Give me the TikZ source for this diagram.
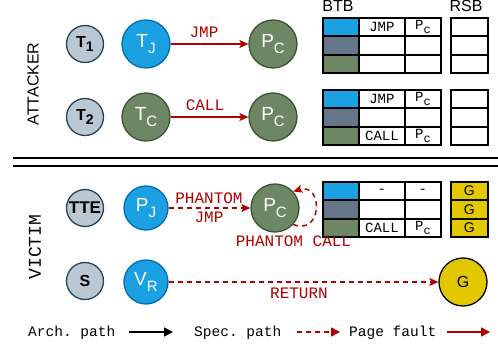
\documentclass[tikz,border=0pt]{standalone}
\usepackage{fontspec}
\usepackage{graphicx}
\setmainfont{Liberation Sans}
\setmonofont{Liberation Mono}
\usetikzlibrary{arrows.meta}
\definecolor{cblue}{HTML}{1BA1E2}
\definecolor{cbluedk}{HTML}{006EAF}
\definecolor{cgreen}{HTML}{6D8764}
\definecolor{cgreendk}{HTML}{3A5431}
\definecolor{cgray}{HTML}{BAC8D3}
\definecolor{cgraydk}{HTML}{23445D}
\definecolor{cslate}{HTML}{647687}
\definecolor{cyel}{HTML}{E3C800}
\definecolor{cred}{HTML}{B20000}
\newcommand\nsub[1]{\raisebox{-5.5pt}{\fontsize{15}{15}\selectfont #1}}
\newcommand\bsub[1]{\raisebox{-4pt}{\fontsize{14}{14}\selectfont\bfseries #1}}
\newcommand\tsub[1]{\raisebox{-4pt}{\fontsize{12}{12}\selectfont #1}}
\newcommand\btbrow[8]{%
  \node[cell, minimum width=36pt, fill=#4] (#1#2a) at (322,#3) {};
  \node[cell, minimum width=46pt] (#1#2b) at (358,#3) {#5};
  \node[cell, minimum width=36pt] (#1#2c) at (404,#3) {#6};
  \node[cell, minimum width=37pt, fill=#7] (#1#2r) at (450,#3) {#8};
}
\begin{document}
\begin{tikzpicture}[x=1pt,y=-1pt,
  thr/.style={circle, draw=cgraydk, fill=cgray, line width=1.3pt, minimum size=37pt, inner sep=0pt, font=\bfseries\fontsize{16}{16}\selectfont},
  bnode/.style={circle, draw=cbluedk, fill=cblue, line width=1.3pt, minimum size=48pt, inner sep=0pt, text=white, font=\fontsize{19}{19}\selectfont},
  gnode/.style={circle, draw=cgreendk, fill=cgreen, line width=1.3pt, minimum size=48pt, inner sep=0pt, text=white, font=\fontsize{19}{19}\selectfont},
  ynode/.style={circle, draw=black, fill=cyel, line width=1.3pt, minimum size=48pt, inner sep=0pt, font=\fontsize{16}{16}\selectfont},
  cell/.style={draw=black, line width=1.8pt, minimum height=18.4pt, inner sep=0pt, anchor=north west, font=\ttfamily\fontsize{14}{14}\selectfont},
  rlab/.style={text=cred, anchor=base, inner sep=0pt, font=\ttfamily\fontsize{16}{16}\selectfont},
  leg/.style={anchor=base west, inner sep=0pt, font=\ttfamily\fontsize{14.5}{14.5}\selectfont},
  redarr/.style={draw=cred, line width=1.5pt, -{Stealth[length=9pt,width=8pt,inset=2pt]}},
  reddash/.style={redarr, dash pattern=on 5pt off 4pt}
]
\useasboundingbox (0,0) rectangle (498,347);

% side labels
\node[rotate=90, font=\fontsize{16}{16}\selectfont, inner sep=0pt] (att) at (33,84) {ATTACKER};
\node[rotate=90, font=\ttfamily\fontsize{18}{18}\selectfont, inner sep=0pt] (vic) at (35,247) {VICTIM};

% headers
\node[anchor=base, inner sep=0pt, font=\fontsize{16}{16}\selectfont] (btbl) at (338,12) {BTB};
\node[anchor=base, inner sep=0pt, font=\fontsize{16}{16}\selectfont] (rsbl) at (466,12) {RSB};

% attacker row 1
\node[thr] (t1) at (85,44) {T\bsub{1}};
\node[bnode] (tj) at (146,44) {T\nsub{J}};
\node[gnode] (pca) at (273,44) {P\nsub{C}};
\draw[redarr] (tj) -- (pca);
\node[rlab] (jmpl) at (204,38) {JMP};

% attacker row 2
\node[thr] (t2) at (85,117) {T\bsub{2}};
\node[gnode] (tc) at (146,117) {T\nsub{C}};
\node[gnode] (pcb) at (273,117) {P\nsub{C}};
\draw[redarr] (tc) -- (pcb);
\node[rlab] (calll) at (205,111) {CALL};

% tables
\btbrow{A}{1}{17}{cblue}{JMP}{P\tsub{c}}{white}{}
\btbrow{A}{2}{35.4}{cslate}{}{}{white}{}
\btbrow{A}{3}{53.8}{cgreen}{}{}{white}{}

\btbrow{B}{1}{89}{cblue}{JMP}{P\tsub{c}}{white}{}
\btbrow{B}{2}{107.4}{cslate}{}{}{white}{}
\btbrow{B}{3}{125.8}{cgreen}{CALL}{P\tsub{c}}{white}{}

\btbrow{C}{1}{181}{cblue}{-}{-}{cyel}{\rmfamily G}
\btbrow{C}{2}{199.4}{cslate}{}{}{cyel}{\rmfamily G}
\btbrow{C}{3}{217.8}{cgreen}{CALL}{P\tsub{c}}{cyel}{\rmfamily G}

% separator
\coordinate (s1l) at (13,158);
\coordinate (s1r) at (498,158);
\coordinate (s2l) at (13,166);
\coordinate (s2r) at (498,166);
\draw[line width=1.3pt] (s1l) -- (s1r);
\draw[line width=1.3pt] (s2l) -- (s2r);

% victim row 1
\node[thr, font=\bfseries\fontsize{17}{17}\selectfont] (tte) at (85,208) {TTE};
\node[bnode, minimum size=44pt] (pj) at (146,208) {P\nsub{J}};
\node[gnode] (pcv) at (275,208) {P\nsub{C}};
\draw[reddash] (pj) -- (pcv);
\node[rlab] (phj1) at (209,204) {PHANTOM};
\node[rlab] (phj2) at (209,223) {JMP};
\draw[reddash] (pcv.-42) .. controls (323,236) and (323,182) .. (pcv.42);
\node[rlab] (phc) at (293.5,247) {PHANTOM CALL};

% victim row 2
\node[thr] (s) at (85,281) {S};
\node[bnode, minimum size=44pt] (vr) at (146,282) {V\nsub{R}};
\node[ynode] (g) at (463,282) {G};
\draw[reddash] (vr) -- (g);
\node[rlab] (ret) at (299,299) {RETURN};

% legend
\node[leg] (la) at (28,337) {Arch. path};
\coordinate (a1) at (129,332);
\coordinate (a2) at (173,332);
\draw[line width=1.5pt, -{Triangle[length=9pt,width=9pt]}] (a1) -- (a2);
\node[leg] (ls) at (194,337) {Spec. path};
\coordinate (b1) at (297,332);
\coordinate (b2) at (340,332);
\draw[draw=cred, fill=cred, line width=1.5pt, dash pattern=on 5pt off 4pt, -{Triangle[length=9pt,width=9pt]}] (b1) -- (b2);
\node[leg] (lp) at (349,337) {Page fault};
\coordinate (c1) at (447,332);
\coordinate (c2) at (490,332);
\draw[draw=cred, fill=cred, line width=1.5pt, -{Triangle[length=9pt,width=9pt]}] (c1) -- (c2);
\end{tikzpicture}
\end{document}
